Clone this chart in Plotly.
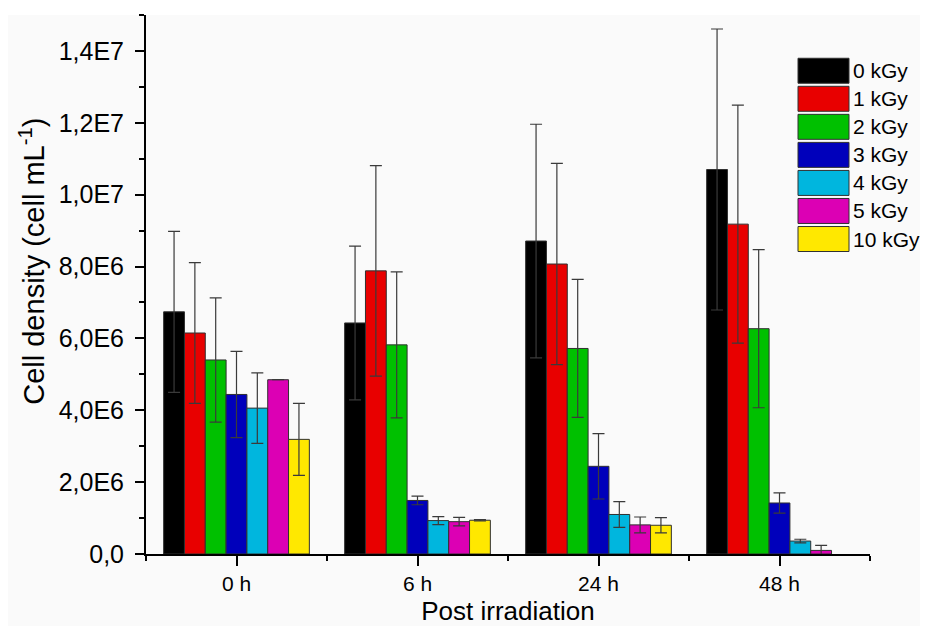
import plotly.graph_objects as go

# ---------------- data ----------------
times = ["0 h", "6 h", "24 h", "48 h"]
doses = ["0 kGy", "1 kGy", "2 kGy", "3 kGy", "4 kGy", "5 kGy", "10 kGy"]

d0_kGy = [6.74e6, 6.43e6, 8.71e6, 10.70e6]
d1_kGy = [6.15e6, 7.88e6, 8.07e6, 9.18e6]
d2_kGy = [5.40e6, 5.82e6, 5.72e6, 6.27e6]
d3_kGy = [4.44e6, 1.49e6, 2.44e6, 1.42e6]
d4_kGy = [4.06e6, 0.93e6, 1.10e6, 0.36e6]
d5_kGy = [4.85e6, 0.90e6, 0.81e6, 0.10e6]
d10_kGy = [3.19e6, 0.94e6, 0.80e6, None]

e0_kGy = [2.24e6, 2.14e6, 3.25e6, 3.91e6]
e1_kGy = [1.96e6, 2.93e6, 2.80e6, 3.31e6]
e2_kGy = [1.73e6, 2.03e6, 1.92e6, 2.20e6]
e3_kGy = [1.20e6, 0.12e6, 0.91e6, 0.28e6]
e4_kGy = [0.98e6, 0.11e6, 0.36e6, 0.05e6]
e5_kGy = [None, 0.12e6, 0.22e6, 0.14e6]
e10_kGy = [1.00e6, 0.02e6, 0.21e6, None]

y_tickvals = [0, 2e6, 4e6, 6e6, 8e6, 10e6, 12e6, 14e6]
y_ticktext = ["0,0", "2,0E6", "4,0E6", "6,0E6", "8,0E6", "1,0E7", "1,2E7", "1,4E7"]

values = [d0_kGy, d1_kGy, d2_kGy, d3_kGy, d4_kGy, d5_kGy, d10_kGy]
errors = [e0_kGy, e1_kGy, e2_kGy, e3_kGy, e4_kGy, e5_kGy, e10_kGy]
colors = ["#000000", "#e80000", "#00c000", "#0000bb", "#00b6de", "#dc00b4", "#ffe800"]

# ---------------- layout constants (pixels) ----------------
OFF = 8                      # page body margin (all sides)
W, H = 928 - 2 * OFF, 634 - 2 * OFF
L, T = 138, 7
R = W - (870 - OFF)
B = H - T - 539.5
PW, PH = W - L - R, H - T - B


def px(x):                   # reference-screen pixel -> paper
    return (x - OFF - L) / PW


def py(y):
    return (H - B - (y - OFF)) / PH


FONT = "Liberation Sans, Arial, sans-serif"
xpos = list(range(len(times)))

fig = go.Figure()
for name, vals, errs, col in zip(doses, values, errors, colors):
    fig.add_trace(go.Bar(
        x=xpos, y=vals, name=name,
        marker=dict(color=col, line=dict(color="#303030", width=1)),
        error_y=dict(type="data", array=errs, visible=True,
                     color="#3a3a3a", thickness=1.2, width=6),
        showlegend=False,
    ))

shapes = [dict(type="rect", xref="paper", yref="paper", layer="below",
               x0=px(8), x1=px(928), y0=py(634), y1=py(15),
               fillcolor="#fafafa", line=dict(width=0))]
annotations = []

# custom legend
for i, (name, col) in enumerate(zip(doses, colors)):
    top = 58.3 + i * 28.07
    shapes.append(dict(type="rect", xref="paper", yref="paper",
                       x0=px(798), x1=px(849), y0=py(top + 25), y1=py(top),
                       fillcolor=col, line=dict(color="#303030", width=1)))
    annotations.append(dict(xref="paper", yref="paper", x=px(851), y=py(top + 12.5),
                            text=name, showarrow=False, xanchor="left", yanchor="middle",
                            font=dict(family=FONT, size=21, color="black")))

annotations.append(dict(xref="paper", yref="paper", x=px(32), y=py(262),
                        text="Cell density (cell mL<sup>-1</sup>)", textangle=-90,
                        showarrow=False, xanchor="center", yanchor="middle",
                        font=dict(family=FONT, size=29, color="black")))

fig.update_layout(
    width=W, height=H,
    margin=dict(l=L, r=R, t=T, b=B),
    paper_bgcolor="white", plot_bgcolor="rgba(0,0,0,0)",
    barmode="group", bargap=0.195, bargroupgap=0,
    font=dict(family=FONT, color="black"),
    shapes=shapes, annotations=annotations,
    xaxis=dict(
        range=[-0.5, len(times) - 0.5], tickvals=xpos, ticktext=times,
        showline=True, linecolor="black", linewidth=2,
        ticks="outside", ticklen=10, tickwidth=1.5, tickcolor="black",
        minor=dict(ticks="outside", ticklen=5, tickwidth=1.5, tickcolor="black",
                   tick0=-0.5, dtick=1),
        showgrid=False, zeroline=False, automargin=False,
        tickfont=dict(size=21),
        title=dict(text="Post irradiation", font=dict(size=26), standoff=14),
    ),
    yaxis=dict(
        range=[0, 1.5e7], tickvals=y_tickvals, ticktext=y_ticktext,
        showline=True, linecolor="black", linewidth=2,
        ticks="outside", ticklen=9, tickwidth=1.5, tickcolor="black",
        ticklabelstandoff=6,
        minor=dict(ticks="outside", ticklen=5, tickwidth=1.5, tickcolor="black",
                   tick0=0, dtick=1e6),
        showgrid=False, zeroline=False, automargin=False,
        tickfont=dict(size=25),
    ),
)

fig.write_html("out.html")
